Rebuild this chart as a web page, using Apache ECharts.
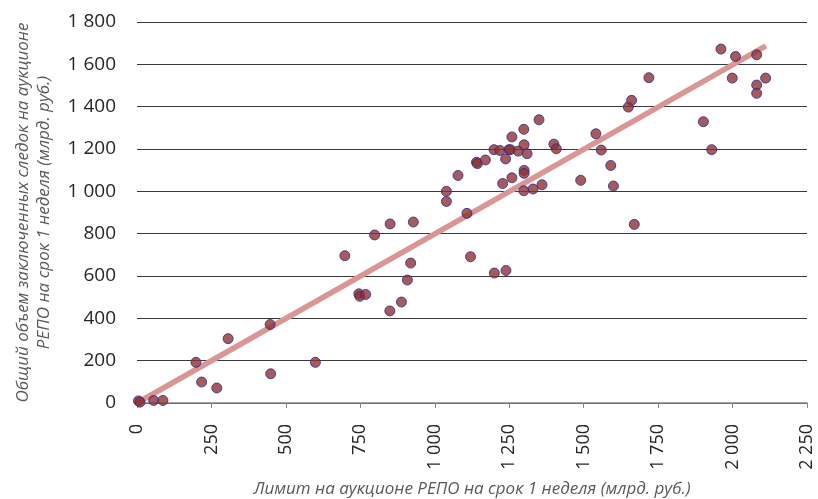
<!DOCTYPE html>
<html>
<head>
<meta charset="utf-8">
<script src="https://cdn.jsdelivr.net/npm/echarts@6/dist/echarts.min.js"></script>
<style>html,body{margin:0;padding:0;background:#fff;}#c{width:818px;height:499px;}</style>
</head>
<body>
<div id="c"></div>
<script>
// Лимит на аукционе (x) and общий объем сделок (y)
const limits = [5, 10, 56, 87, 198, 217, 268, 306, 447, 449, 599, 698, 745, 748, 768, 798, 849, 850, 888, 908, 919, 928,
  1039, 1039, 1078, 1108, 1120, 1140, 1143, 1170, 1199, 1200, 1219, 1228, 1238, 1239, 1249, 1254, 1259, 1259, 1280,
  1299, 1300, 1300, 1300, 1299, 1310, 1330, 1350, 1360, 1400, 1408, 1490, 1541, 1559, 1591, 1600,
  1670, 1650, 1661, 1719, 1902, 1930, 1961, 1999, 2010, 2081, 2081, 2081, 2111];
const volumes = [10, 4, 12, 12, 192, 99, 71, 304, 371, 138, 192, 696, 516, 504, 513, 794, 435, 846, 477, 581, 661, 855,
  1000, 952, 1075, 896, 691, 1137, 1131, 1148, 1197, 614, 1193, 1037, 1153, 626, 1197, 1197, 1257, 1064, 1190,
  1293, 1220, 1099, 1085, 1003, 1178, 1011, 1338, 1031, 1223, 1201, 1052, 1272, 1195, 1122, 1025,
  844, 1398, 1430, 1537, 1329, 1197, 1672, 1535, 1637, 1645, 1502, 1463, 1535];
const trendSlope = 0.7989;
const trendX = [0, 2112];
const trendLabel = 'y = 0,7989x';
const xTitle = 'Лимит на аукционе РЕПО на срок 1 неделя (млрд. руб.)';
const yTitle = 'Общий объем заключенных следок на аукционе\nРЕПО на срок 1 неделя (млрд. руб.)';

const points = limits.map((x, i) => [x, volumes[i]]);
const trend = trendX.map(x => [x, x * trendSlope]);
const fmt = v => v >= 1000 ? Math.floor(v / 1000) + ' ' + String(v % 1000).padStart(3, '0') : String(v);

const chart = echarts.init(document.getElementById('c'));
chart.setOption({
  animation: false,
  grid: { left: 137, right: 11, top: 22, bottom: 96, containLabel: false, outerBoundsMode: 'none' },
  xAxis: {
    type: 'value', min: 0, max: 2250, interval: 250,
    name: xTitle, nameLocation: 'middle', nameGap: 78,
    nameTextStyle: { fontFamily: 'Open Sans', fontStyle: 'italic', fontSize: 17, color: '#595959' },
    axisLine: { show: true, lineStyle: { color: '#868686', width: 1.5 } },
    axisTick: { show: true, length: 5, lineStyle: { color: '#868686' } },
    splitLine: { show: false },
    axisLabel: { rotate: 90, margin: 21, formatter: fmt, fontFamily: 'Open Sans', fontSize: 18, color: '#262626' }
  },
  yAxis: {
    type: 'value', min: 0, max: 1800, interval: 200,
    name: yTitle, nameLocation: 'middle', nameGap: 82, nameRotate: 90,
    nameTextStyle: { fontFamily: 'Open Sans', fontStyle: 'italic', fontSize: 17, color: '#595959', lineHeight: 21 },
    axisLine: { show: false },
    axisTick: { show: false },
    splitLine: { show: true, lineStyle: { color: '#3a3a3a', width: 1 } },
    axisLabel: { margin: 21, formatter: fmt, fontFamily: 'Open Sans', fontSize: 19, color: '#262626' }
  },
  series: [
    {
      type: 'line', data: [trend[0], { value: trend[1], label: {
        show: true, position: 'left', distance: 66, formatter: trendLabel,
        fontFamily: 'Open Sans', fontSize: 18, color: '#262626' } }],
      symbol: 'none', showSymbol: false, z: 1,
      lineStyle: { color: '#d99694', width: 5.5 },
      label: { show: false }
    },
    {
      type: 'scatter', data: points, symbol: 'circle', symbolSize: 10, z: 3,
      itemStyle: { color: '#8e3232', borderColor: '#2e2b8c', borderWidth: 1 }
    }
  ]
});
</script>
</body>
</html>
